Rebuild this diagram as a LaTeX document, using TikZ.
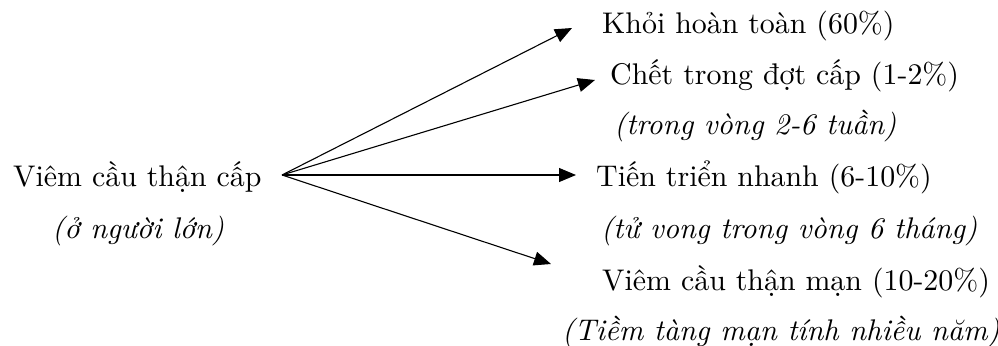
\documentclass[tikz,border=0pt]{standalone}
\usepackage{fontspec}
\setmainfont{lmroman10-regular}[Extension=.otf,ItalicFont=lmroman10-italic]
\usetikzlibrary{arrows.meta}
\begin{document}
\begin{tikzpicture}[x=1bp,y=-1bp,
  txt/.style={anchor=base west,inner sep=0pt,font=\fontsize{30}{34}\selectfont},
  itx/.style={txt,font=\fontsize{30}{34}\selectfont\itshape},
  arr/.style={line width=1.1bp,-{Triangle[length=17bp,width=14bp]}}]
\useasboundingbox (0,0) rectangle (998,345);
\node[txt] (src) at (13,186) {Viêm cầu thận cấp};
\node[itx] (srcn) at (52,238) {(ở người lớn)};
\node[txt] (a) at (602,33) {Khỏi hoàn toàn (60\%)};
\node[txt] (b) at (610,84) {Chết trong đợt cấp (1-2\%)};
\node[itx] (bn) at (614,134) {(trong vòng 2-6 tuần)};
\node[txt] (c) at (596,186) {Tiến triển nhanh (6-10\%)};
\node[itx] (cn) at (601,238) {(tử vong trong vòng 6 tháng)};
\node[txt] (d) at (602,290) {Viêm cầu thận mạn (10-20\%)};
\node[itx] (dn) at (562,340) {(Tiềm tàng mạn tính nhiều năm)};
\coordinate (o) at (282,175);
\coordinate (ta) at (572,28);
\coordinate (tb) at (595,80);
\coordinate (tc) at (576,175);
\coordinate (td) at (551,264);
\draw[arr] (o) -- (ta);
\draw[arr] (o) -- (tb);
\draw[arr] (o) -- (tc);
\draw[arr] (o) -- (td);
\end{tikzpicture}
\end{document}
